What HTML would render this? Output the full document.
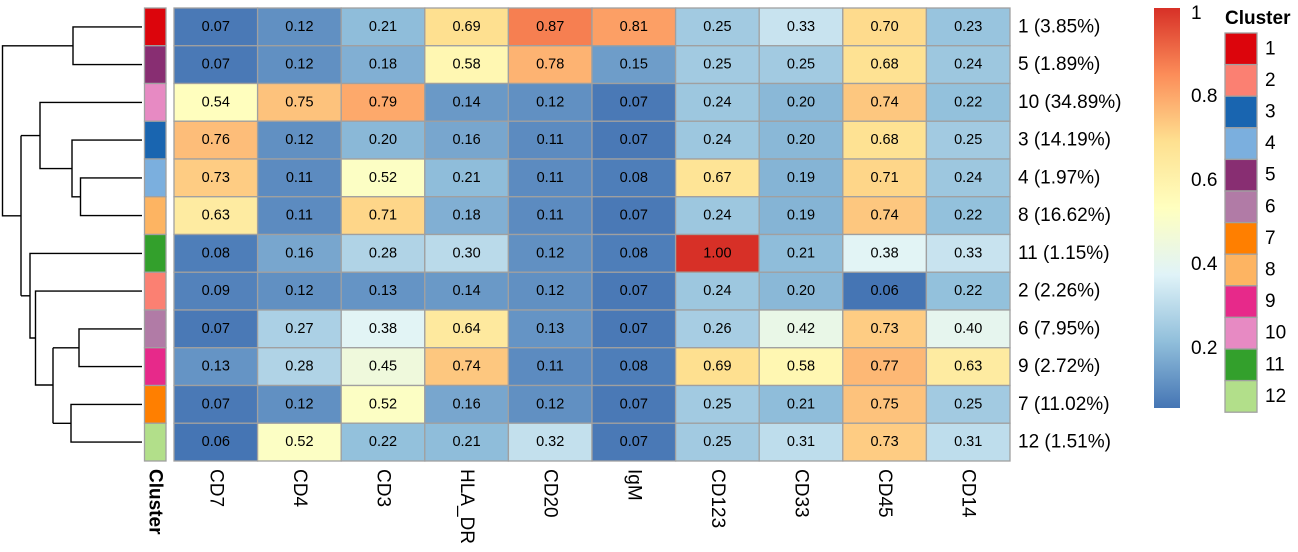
<!DOCTYPE html>
<html><head><meta charset="utf-8"><style>
html,body{margin:0;padding:0;background:#fff}
svg{display:block;font-family:"Liberation Sans",Arial,sans-serif}
</style></head><body>
<svg id="s" width="1298" height="552" viewBox="0 0 1298 552" xmlns="http://www.w3.org/2000/svg">
<defs><linearGradient id="cb" x1="0" y1="1" x2="0" y2="0">
<stop offset="0" stop-color="#4575B4"/><stop offset="0.1667" stop-color="#91BFDB"/><stop offset="0.3333" stop-color="#E0F3F8"/><stop offset="0.5" stop-color="#FFFFBF"/><stop offset="0.6667" stop-color="#FEE090"/><stop offset="0.8333" stop-color="#FC8D59"/><stop offset="1" stop-color="#D73027"/>
</linearGradient></defs>
<g id="dend" stroke="#000" stroke-width="1.4" fill="none">
<path d="M142 26.9H73V64.6H142"/>
<path d="M73 45.8H2.5V215.8H21"/>
<path d="M21 135.6V295.8"/>
<path d="M21 135.6H40"/>
<path d="M142 102.4H40V168.6H72"/>
<path d="M142 140.1H72V196.8H80.5"/>
<path d="M142 177.9H80.5V215.6H142"/>
<path d="M21 295.8H30"/>
<path d="M142 253.4H30V338H35.5"/>
<path d="M142 291.1H35.5V385H53"/>
<path d="M53 347.8V423.3"/>
<path d="M142 328.9H79V366.6H142"/>
<path d="M53 347.8H79"/>
<path d="M142 404.4H71V442.1H142"/>
<path d="M53 423.3H71"/>
</g>
<g id="ann"></g>
<g id="cells"></g>
<g id="txt" font-size="14.5" text-anchor="middle" dominant-baseline="central" fill="#000">
<g data-r="0"><text>0.07</text><text>0.12</text><text>0.21</text><text>0.69</text><text>0.87</text><text>0.81</text><text>0.25</text><text>0.33</text><text>0.70</text><text>0.23</text></g>
<g data-r="1"><text>0.07</text><text>0.12</text><text>0.18</text><text>0.58</text><text>0.78</text><text>0.15</text><text>0.25</text><text>0.25</text><text>0.68</text><text>0.24</text></g>
<g data-r="2"><text>0.54</text><text>0.75</text><text>0.79</text><text>0.14</text><text>0.12</text><text>0.07</text><text>0.24</text><text>0.20</text><text>0.74</text><text>0.22</text></g>
<g data-r="3"><text>0.76</text><text>0.12</text><text>0.20</text><text>0.16</text><text>0.11</text><text>0.07</text><text>0.24</text><text>0.20</text><text>0.68</text><text>0.25</text></g>
<g data-r="4"><text>0.73</text><text>0.11</text><text>0.52</text><text>0.21</text><text>0.11</text><text>0.08</text><text>0.67</text><text>0.19</text><text>0.71</text><text>0.24</text></g>
<g data-r="5"><text>0.63</text><text>0.11</text><text>0.71</text><text>0.18</text><text>0.11</text><text>0.07</text><text>0.24</text><text>0.19</text><text>0.74</text><text>0.22</text></g>
<g data-r="6"><text>0.08</text><text>0.16</text><text>0.28</text><text>0.30</text><text>0.12</text><text>0.08</text><text>1.00</text><text>0.21</text><text>0.38</text><text>0.33</text></g>
<g data-r="7"><text>0.09</text><text>0.12</text><text>0.13</text><text>0.14</text><text>0.12</text><text>0.07</text><text>0.24</text><text>0.20</text><text>0.06</text><text>0.22</text></g>
<g data-r="8"><text>0.07</text><text>0.27</text><text>0.38</text><text>0.64</text><text>0.13</text><text>0.07</text><text>0.26</text><text>0.42</text><text>0.73</text><text>0.40</text></g>
<g data-r="9"><text>0.13</text><text>0.28</text><text>0.45</text><text>0.74</text><text>0.11</text><text>0.08</text><text>0.69</text><text>0.58</text><text>0.77</text><text>0.63</text></g>
<g data-r="10"><text>0.07</text><text>0.12</text><text>0.52</text><text>0.16</text><text>0.12</text><text>0.07</text><text>0.25</text><text>0.21</text><text>0.75</text><text>0.25</text></g>
<g data-r="11"><text>0.06</text><text>0.52</text><text>0.22</text><text>0.21</text><text>0.32</text><text>0.07</text><text>0.25</text><text>0.31</text><text>0.73</text><text>0.31</text></g>
</g>
<g font-size="19" dominant-baseline="central" fill="#000">
<text x="1018" y="26.9">1 (3.85%)</text>
<text x="1018" y="64.6">5 (1.89%)</text>
<text x="1018" y="102.4">10 (34.89%)</text>
<text x="1018" y="140.1">3 (14.19%)</text>
<text x="1018" y="177.9">4 (1.97%)</text>
<text x="1018" y="215.6">8 (16.62%)</text>
<text x="1018" y="253.4">11 (1.15%)</text>
<text x="1018" y="291.1">2 (2.26%)</text>
<text x="1018" y="328.9">6 (7.95%)</text>
<text x="1018" y="366.6">9 (2.72%)</text>
<text x="1018" y="404.4">7 (11.02%)</text>
<text x="1018" y="442.1">12 (1.51%)</text>
</g>
<g font-size="19" dominant-baseline="central" fill="#000">
<text transform="translate(155,469) rotate(90)" font-weight="bold">Cluster</text>
<text transform="translate(215.8,469) rotate(90)">CD7</text>
<text transform="translate(299.4,469) rotate(90)">CD4</text>
<text transform="translate(383,469) rotate(90)">CD3</text>
<text transform="translate(466.6,469) rotate(90)">HLA_DR</text>
<text transform="translate(550.2,469) rotate(90)">CD20</text>
<text transform="translate(633.8,469) rotate(90)">IgM</text>
<text transform="translate(717.4,469) rotate(90)">CD123</text>
<text transform="translate(801,469) rotate(90)">CD33</text>
<text transform="translate(884.6,469) rotate(90)">CD45</text>
<text transform="translate(968.2,469) rotate(90)">CD14</text>
</g>
<rect x="1154" y="8" width="26" height="400" fill="url(#cb)"/>
<g font-size="19" fill="#000">
<text x="1191" y="19">1</text>
<text x="1191" y="102">0.8</text>
<text x="1191" y="186">0.6</text>
<text x="1191" y="270">0.4</text>
<text x="1191" y="354">0.2</text>
</g>
<text x="1225" y="24" font-size="19" font-weight="bold">Cluster</text>
<g id="leg"></g>
<g id="legt" font-size="19" dominant-baseline="central">
<text x="1265" y="48.8">1</text><text x="1265" y="80.4">2</text><text x="1265" y="112">3</text><text x="1265" y="143.6">4</text>
<text x="1265" y="175.2">5</text><text x="1265" y="206.8">6</text><text x="1265" y="238.4">7</text><text x="1265" y="270">8</text>
<text x="1265" y="301.6">9</text><text x="1265" y="333.2">10</text><text x="1265" y="364.8">11</text><text x="1265" y="396.4">12</text>
</g>
</svg>
<script>
var NS="http://www.w3.org/2000/svg";
function mk(p,t,a){var e=document.createElementNS(NS,t);for(var k in a)e.setAttribute(k,a[k]);p.appendChild(e);return e;}
var pal=["#4575B4","#91BFDB","#E0F3F8","#FFFFBF","#FEE090","#FC8D59","#D73027"];
function hx(c){return [parseInt(c.substr(1,2),16),parseInt(c.substr(3,2),16),parseInt(c.substr(5,2),16)];}
function col(v){var mn=0.055,mx=1.0;var t=(v-mn)/(mx-mn);t=Math.max(0,Math.min(1,t));t=Math.floor(t*99)/99;
var p=t*6,i=Math.min(5,Math.floor(p)),f=p-i;var a=hx(pal[i]),b=hx(pal[i+1]);
return "rgb("+a.map(function(x,k){return Math.round(x+(b[k]-x)*f)}).join(",")+")";}
var cc={1:"#DC050C",2:"#FB8072",3:"#1965B0",4:"#7BAFDE",5:"#882E72",6:"#B17BA6",7:"#FF7F00",8:"#FDB462",9:"#E7298A",10:"#E78AC3",11:"#33A02C",12:"#B2DF8A"};
var order=[1,5,10,3,4,8,11,2,6,9,7,12];
var X0=174,CW=83.6,Y0=8,RH=37.75;
var cells=document.getElementById("cells"),ann=document.getElementById("ann"),leg=document.getElementById("leg");
document.querySelectorAll("#txt g").forEach(function(g){var r=+g.getAttribute("data-r");
g.querySelectorAll("text").forEach(function(t,j){var v=parseFloat(t.textContent);
mk(cells,"rect",{x:X0+CW*j,y:Y0+RH*r,width:CW,height:RH,fill:col(v),stroke:"#A0A0A0","stroke-width":1.3});
t.setAttribute("x",X0+CW*(j+0.5));t.setAttribute("y",Y0+RH*(r+0.5));});});
order.forEach(function(c,i){mk(ann,"rect",{x:144.5,y:Y0+RH*i,width:21.5,height:RH,fill:cc[c],stroke:"#A0A0A0","stroke-width":1.3});});
for(var i=1;i<=12;i++)mk(leg,"rect",{x:1225,y:33+31.6*(i-1),width:32,height:31.6,fill:cc[i],stroke:"#A0A0A0","stroke-width":1.3});
</script>
</body></html>
